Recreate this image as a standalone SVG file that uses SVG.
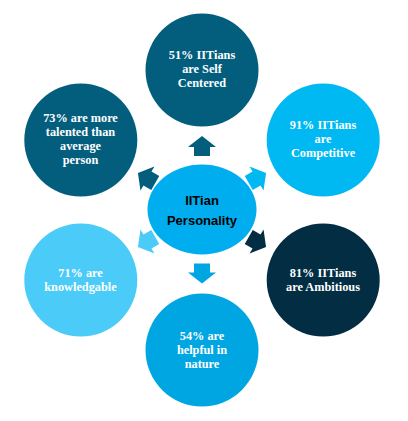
<svg xmlns="http://www.w3.org/2000/svg" width="408" height="421" viewBox="0 0 408 421">
<style>
.lbl{font-family:"Liberation Serif","Times New Roman",serif;font-weight:bold;font-size:12.3px;fill:#ffffff;text-anchor:middle}
.ctr{font-family:"Liberation Sans",Arial,sans-serif;font-weight:bold;font-size:13px;fill:#000000;text-anchor:middle}
</style>
<defs>
<path id="arr" d="M0,-10 L14,1 L8,1 L8,10 L-8,10 L-8,1 L-14,1 Z"/>
</defs>
<rect width="408" height="421" fill="#ffffff"/>
<g id="connectors">
<use href="#arr" transform="translate(202,146)" fill="#035E7E"/>
<use href="#arr" transform="translate(257.4,178) rotate(60)" fill="#00B9F2"/>
<use href="#arr" transform="translate(257.4,242) rotate(120)" fill="#022D42"/>
<use href="#arr" transform="translate(202,273.5) rotate(180)" fill="#00A6E2"/>
<use href="#arr" transform="translate(146.6,242) rotate(240)" fill="#4ACBF8"/>
<use href="#arr" transform="translate(146.6,178) rotate(300)" fill="#035E7E"/>
</g>
<g id="center">
<ellipse cx="202" cy="209.5" rx="54.5" ry="45" fill="#00AEEF"/>
<text class="ctr" x="202" y="205">IITian</text>
<text class="ctr" x="202" y="224.5">Personality</text>
</g>
<g id="node-top">
<circle cx="202" cy="70" r="56.5" fill="#035E7E"/>
<text class="lbl" x="202" y="59">51% IITians</text>
<text class="lbl" x="202" y="73">are Self</text>
<text class="lbl" x="202" y="87">Centered</text>
</g>
<g id="node-right-top">
<circle cx="323.2" cy="140" r="56.5" fill="#00B9F2"/>
<text class="lbl" x="323" y="129">91% IITians</text>
<text class="lbl" x="323" y="143">are</text>
<text class="lbl" x="323" y="157">Competitive</text>
</g>
<g id="node-right-bottom">
<circle cx="323.2" cy="280" r="56.5" fill="#022D42"/>
<text class="lbl" x="323" y="276.5">81% IITians</text>
<text class="lbl" x="323" y="290.5">are Ambitious</text>
</g>
<g id="node-bottom">
<circle cx="202" cy="350" r="56.5" fill="#00A6E2"/>
<text class="lbl" x="202" y="340">54% are</text>
<text class="lbl" x="202" y="354">helpful in</text>
<text class="lbl" x="202" y="368">nature</text>
</g>
<g id="node-left-bottom">
<circle cx="80.8" cy="280" r="56.5" fill="#4ACBF8"/>
<text class="lbl" x="80.5" y="276.5">71% are</text>
<text class="lbl" x="80.5" y="290.5">knowledgable</text>
</g>
<g id="node-left-top">
<circle cx="80.8" cy="140" r="56.5" fill="#035E7E"/>
<text class="lbl" x="80.5" y="122">73% are more</text>
<text class="lbl" x="80.5" y="136">talented than</text>
<text class="lbl" x="80.5" y="150">average</text>
<text class="lbl" x="80.5" y="164">person</text>
</g>
</svg>
